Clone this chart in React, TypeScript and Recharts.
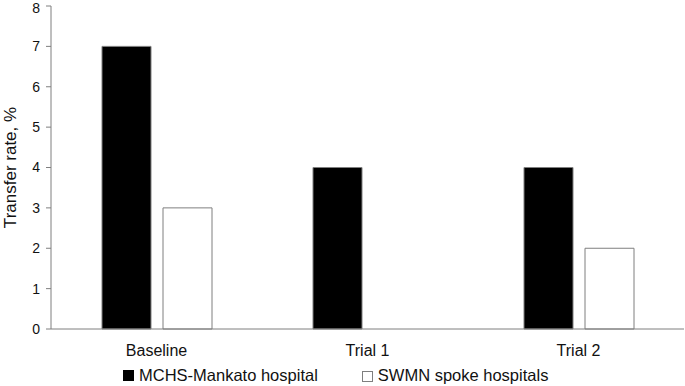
import { Bar, BarChart, Legend, XAxis, YAxis, Label } from "recharts";

const periods = ["Baseline", "Trial 1", "Trial 2"];
const mankato = [7, 4, 4];
const swmn = [3, 0, 2];
const yTicks = [0, 1, 2, 3, 4, 5, 6, 7, 8];

const data = periods.map((p, i) => ({ period: p, mankato: mankato[i], swmn: swmn[i] }));

const axisColor = "#7f7f7f";
const font = "'Liberation Sans', Arial, sans-serif";

function LegendBox() {
  return (
    <div style={{ display: "flex", gap: 44, fontFamily: font, fontSize: 16.5, lineHeight: "18px", color: "#111", whiteSpace: "nowrap" }}>
      <span style={{ display: "flex", alignItems: "center" }}>
        <span style={{ display: "inline-block", width: 11, height: 11, background: "#000", marginRight: 5 }} />
        MCHS-Mankato hospital
      </span>
      <span style={{ display: "flex", alignItems: "center" }}>
        <span style={{ display: "inline-block", width: 9, height: 9, border: `1px solid ${axisColor}`, background: "#fff", marginRight: 5, marginTop: 3 }} />
        SWMN spoke hospitals
      </span>
    </div>
  );
}

export default function App() {
  return (
    <div style={{ position: "absolute", left: 0, top: 0, background: "#fff" }}>
      <BarChart
        width={685}
        height={386}
        data={data}
        margin={{ top: 6, right: 1, left: 0, bottom: 0 }}
        barCategoryGap={51}
        barGap={12}
      >
        <XAxis
          dataKey="period"
          stroke={axisColor}
          tickLine={false}
          tickMargin={10}
          height={41}
          tick={{ fontSize: 16, fill: "#111", fontFamily: font }}
        />
        <YAxis
          domain={[0, 8]}
          ticks={yTicks}
          width={51}
          stroke={axisColor}
          tickSize={5}
          tickMargin={6}
          tick={{ fontSize: 14, fill: "#111", fontFamily: font }}
        >
          <Label
            value="Transfer rate, %"
            angle={-90}
            position="insideLeft"
            offset={10}
            style={{ textAnchor: "middle", fontSize: 17, fill: "#111", fontFamily: font }}
          />
        </YAxis>
        <Legend
          content={<LegendBox />}
          height={16}
          wrapperStyle={{ left: 123, top: 366, width: "auto" }}
        />
        <Bar dataKey="mankato" name="MCHS-Mankato hospital" fill="#000" stroke={axisColor} isAnimationActive={false} />
        <Bar dataKey="swmn" name="SWMN spoke hospitals" fill="#fff" stroke={axisColor} isAnimationActive={false} />
      </BarChart>
    </div>
  );
}
